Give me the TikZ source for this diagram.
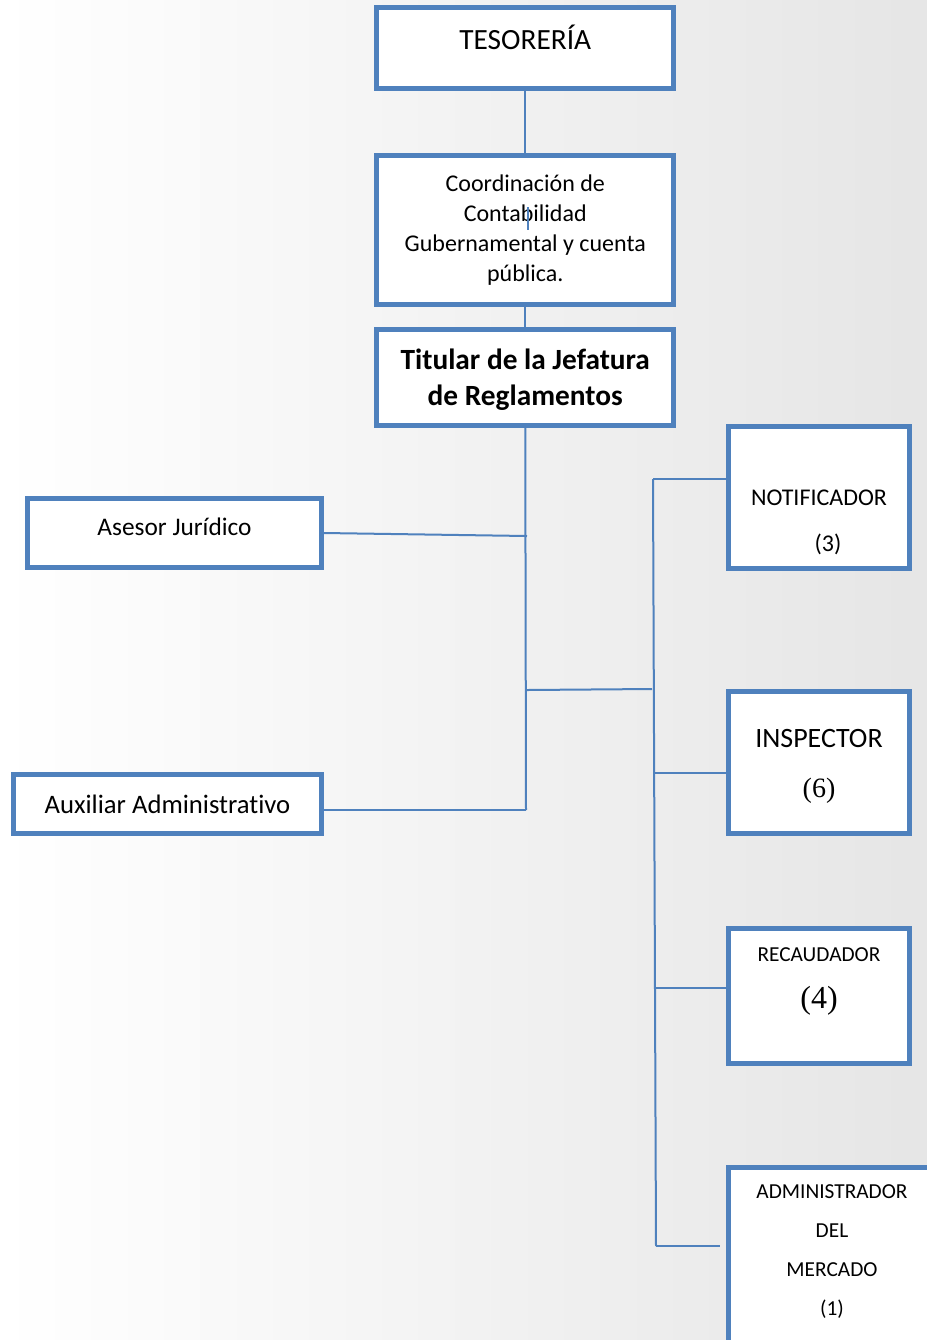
\documentclass[tikz,border=0pt]{standalone}
\usepackage{fontspec}
\setmainfont{Carlito}[Ligatures=NoCommon]
\newfontfamily\numfont{Liberation Serif}
\usetikzlibrary{positioning}
\definecolor{orgblue}{HTML}{4F81BD}

\tikzset{
  orgbox/.style={draw=orgblue, line width=3.75pt, fill=white, inner sep=0pt, align=center},
  link/.style={draw=orgblue, line width=1.5pt},
}

\begin{document}
\begin{tikzpicture}[x=0.75pt,y=-0.75pt]
  \clip (0,0) rectangle (927,1340);
  \shade[left color=white, middle color=black!6, right color=black!10] (0,0) rectangle (927,1340);
  % upper chain
  \node[orgbox, minimum width=223.1pt, minimum height=60.75pt,
        label={[font=\fontsize{22}{26}\selectfont, yshift=8pt]center:TESORERÍA}] (tes) at (525.25,48) {};
  \node[orgbox, minimum width=223.1pt, minimum height=111.75pt,
        font=\fontsize{18}{22.5}\selectfont] (coo) at (525.25,230)
        {Coordinación de\\Contabilidad\\Gubernamental y cuenta\\pública.};
  \node[orgbox, minimum width=223.1pt, minimum height=72pt,
        label={[font=\fontsize{22}{27}\selectfont\bfseries, align=center, yshift=-1.5pt]center:Titular de la Jefatura\\de Reglamentos}] (tit) at (525.25,377.5) {};
  % left side
  \node[orgbox, minimum width=220.5pt, minimum height=51.75pt,
        label={[font=\fontsize{19}{22}\selectfont, yshift=4.5pt]center:Asesor Jurídico}] (ase) at (174.5,533) {};
  \node[orgbox, minimum width=231pt, minimum height=44.25pt,
        font=\fontsize{20}{22}\selectfont] (aux) at (167.5,804) {Auxiliar Administrativo};
  % right side
  \node[orgbox, minimum width=135.75pt, minimum height=106.5pt,
        label={[font=\fontsize{18}{34.5}\selectfont, align=center, yshift=-19pt]center:NOTIFICADOR\\\hspace*{13.5pt}(3)}] (noti) at (819,497.5) {};
  \node[orgbox, minimum width=135.75pt, minimum height=106.5pt,
        label={[font=\fontsize{21}{37.5}\selectfont, align=center, yshift=-3pt]center:INSPECTOR\\{\numfont\fontsize{21}{37.5}\selectfont(6)}}] (insp) at (819,762.5) {};
  \node[orgbox, minimum width=135.75pt, minimum height=101.25pt,
        label={[font=\fontsize{16}{35}\selectfont, align=center, yshift=11pt]center:RECAUDADOR\\{\numfont\fontsize{24}{35}\selectfont(4)}}] (rec) at (819,996) {};
  \node[orgbox, minimum width=173.6pt, minimum height=174.4pt,
        label={[font=\fontsize{16}{29.25}\selectfont, align=center, xshift=-9.2pt, yshift=24pt]center:ADMINISTRADOR\\DEL\\MERCADO\\(1)}] (adm) at (844.25,1283.75) {};
  % junctions
  \coordinate (jase) at (527,536);
  \coordinate (jaux) at (526,810);
  \coordinate (jmid) at (527,690);
  \coordinate (rmid) at (652,689);
  \coordinate (rtop) at (653,479);
  \coordinate (rbot) at (656,1246);
  \coordinate (radm) at (720,1246);
  % connectors
  \draw[link] (tes.south) -- (coo.north);
  \draw[link] (coo.south) -- (tit.north);
  \draw[link, line width=1.2pt] ([xshift=2.2pt,yshift=17pt]coo.center) -- ([xshift=2.2pt,yshift=0pt]coo.center);
  \draw[link] (tit.south) -- (jaux);
  \draw[link] (ase.east) -- (jase);
  \draw[link] (aux.east |- jaux) -- (jaux);
  \draw[link] (jmid) -- (rmid);
  \draw[link] (rtop) -- (rbot);
  \draw[link] (rtop) -- (noti.west |- rtop);
  \draw[link] (654.5,773) -- (insp.west |- 0,773);
  \draw[link] (655.5,988) -- (rec.west |- 0,988);
  \draw[link] (rbot) -- (radm);
\end{tikzpicture}
\end{document}
